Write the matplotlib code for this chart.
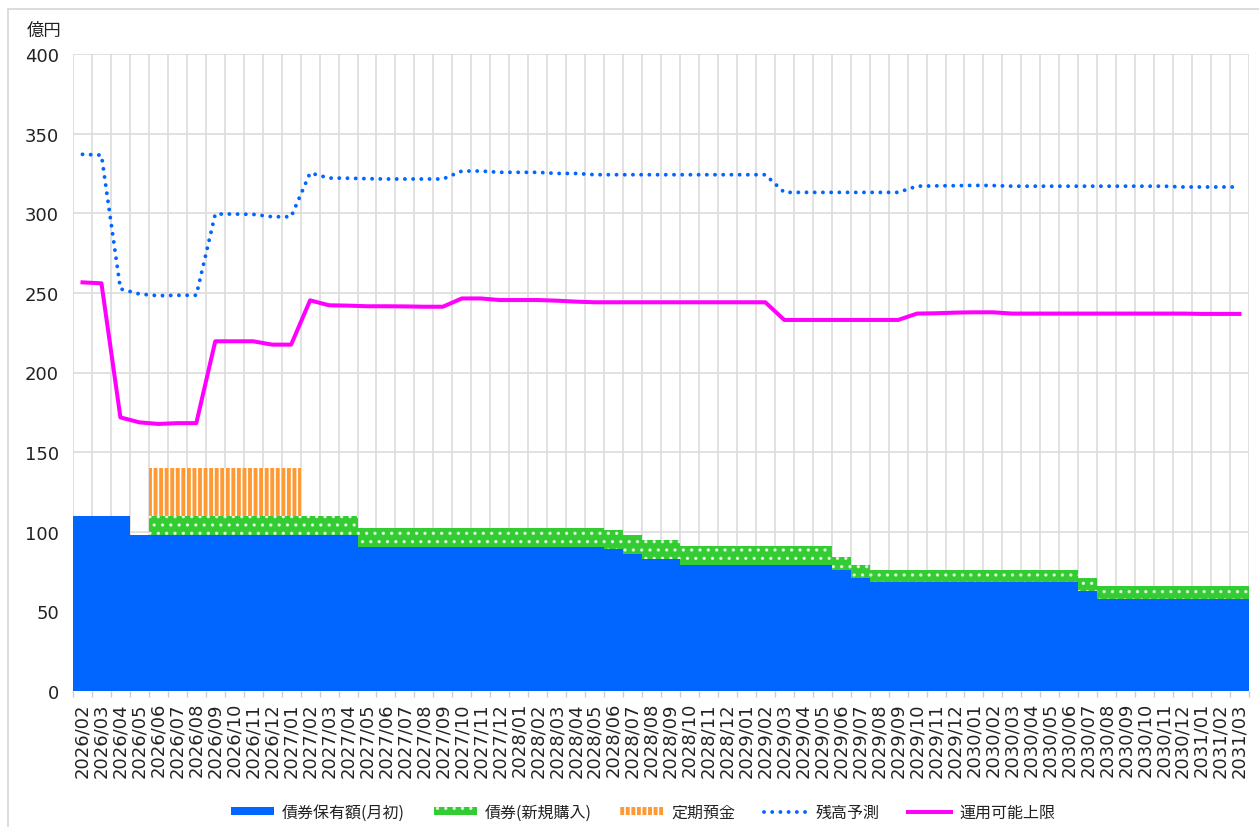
import matplotlib
matplotlib.use('Agg')
import matplotlib.pyplot as plt
import numpy as np
from matplotlib.patches import Patch, Rectangle
from matplotlib.lines import Line2D
from matplotlib.font_manager import FontProperties

plt.rcParams['font.family'] = ['DejaVu Sans', 'Noto Sans CJK JP']
plt.rcParams['hatch.linewidth'] = 1.2

months = [
    "2026/02", "2026/03", "2026/04", "2026/05", "2026/06", "2026/07", "2026/08", "2026/09",
    "2026/10", "2026/11", "2026/12", "2027/01", "2027/02", "2027/03", "2027/04", "2027/05",
    "2027/06", "2027/07", "2027/08", "2027/09", "2027/10", "2027/11", "2027/12", "2028/01",
    "2028/02", "2028/03", "2028/04", "2028/05", "2028/06", "2028/07", "2028/08", "2028/09",
    "2028/10", "2028/11", "2028/12", "2029/01", "2029/02", "2029/03", "2029/04", "2029/05",
    "2029/06", "2029/07", "2029/08", "2029/09", "2029/10", "2029/11", "2029/12", "2030/01",
    "2030/02", "2030/03", "2030/04", "2030/05", "2030/06", "2030/07", "2030/08", "2030/09",
    "2030/10", "2030/11", "2030/12", "2031/01", "2031/02", "2031/03",
]

# 債券保有額(月初)
bond_held = [
    110, 110, 110, 98, 98, 98, 98, 98, 98, 98, 98, 98, 98, 98, 98,
    90.3, 90.3, 90.3, 90.3, 90.3, 90.3, 90.3, 90.3, 90.3, 90.3, 90.3, 90.3, 90.3,
    89.3, 86, 83, 83,
    79.3, 79.3, 79.3, 79.3, 79.3, 79.3, 79.3, 79.3,
    76.2, 71,
    68.2, 68.2, 68.2, 68.2, 68.2, 68.2, 68.2, 68.2, 68.2, 68.2, 68.2,
    63,
    58, 58, 58, 58, 58, 58, 58, 58,
]

# 債券(新規購入)
bond_new = [
    0, 0, 0, 0, 12, 12, 12, 12, 12, 12, 12, 12, 12, 12, 12,
    12, 12, 12, 12, 12, 12, 12, 12, 12, 12, 12, 12, 12,
    11.7, 12, 11.7, 11.7,
    11.7, 11.7, 11.7, 11.7, 11.7, 11.7, 11.7, 11.7,
    7.9, 8,
    7.8, 7.8, 7.8, 7.8, 7.8, 7.8, 7.8, 7.8, 7.8, 7.8, 7.8,
    7.8,
    8, 8, 8, 8, 8, 8, 8, 8,
]

# 定期預金
deposit = [
    0, 0, 0, 0, 30, 30, 30, 30, 30, 30, 30, 30, 0, 0, 0,
    0, 0, 0, 0, 0, 0, 0, 0, 0, 0, 0, 0, 0,
    0, 0, 0, 0,
    0, 0, 0, 0, 0, 0, 0, 0,
    0, 0,
    0, 0, 0, 0, 0, 0, 0, 0, 0, 0, 0,
    0,
    0, 0, 0, 0, 0, 0, 0, 0,
]

# 残高予測
balance_forecast = [
    337, 336.5, 252.5, 249.3, 248.2, 248.5, 248.5, 299.5, 299.5, 299.3, 297.8, 297.8,
    325.3, 322.1, 322, 321.7, 321.5, 321.5, 321.5, 321.5, 326.5, 326.5, 325.7, 325.7,
    325.7, 325, 325,
    324.2, 324.2, 324.2, 324.2, 324.2, 324.2, 324.2, 324.2, 324.2, 324.2,
    313.1, 313.1, 313.1, 313.1, 313.1, 313.1, 313.1,
    317, 317.2, 317.3, 317.5, 317.4,
    317, 317, 317, 317, 317, 317, 317, 317, 317,
    316.5, 316.5, 316.5, 316.5,
]

# 運用可能上限
investable_limit = [
    256.6, 256, 171.8, 168.7, 167.7, 168.2, 168.2, 219.6, 219.6, 219.6, 217.5, 217.5,
    245.3, 242.2, 242, 241.6, 241.6, 241.5, 241.3, 241.3, 246.5, 246.5, 245.5, 245.5,
    245.5, 245.1, 244.5,
    244.1, 244.1, 244.1, 244.1, 244.1, 244.1, 244.1, 244.1, 244.1, 244.1,
    233, 233, 233, 233, 233, 233, 233,
    237, 237.2, 237.6, 237.8, 237.8,
    237, 237, 237, 237, 237, 237, 237, 237, 237, 237, 236.8, 236.8, 236.8,
]

labels = ["債券保有額(月初)", "債券(新規購入)", "定期預金", "残高予測", "運用可能上限"]

C_BLUE = '#0066FF'
C_GREEN = '#33CC33'
C_ORANGE = '#FF9933'
C_MAG = '#FF00FF'
C_GRID = '#DCDCDC'
C_DOT = (1, 1, 1, 0.75)

W, H = 1259, 828
fig = plt.figure(figsize=(W / 100, H / 100), dpi=100)
fig.patch.set_facecolor('white')
ax = fig.add_axes([73 / W, 1 - 692 / H, (1249 - 73) / W, (692 - 55) / H])

x = np.arange(len(months))
held = np.array(bond_held, dtype=float)
new = np.array(bond_new, dtype=float)
dep = np.array(deposit, dtype=float)

ax.bar(x, held, width=1.0, color=C_BLUE, linewidth=0, antialiased=False, zorder=2)
ax.bar(x, new, bottom=held, width=1.0, facecolor=C_GREEN, edgecolor=C_DOT,
       linewidth=0, hatch='..', antialiased=False, zorder=2)
ax.bar(x, dep, bottom=held + new, width=1.0, facecolor=C_ORANGE, edgecolor='white',
       linewidth=0, hatch='|||', antialiased=False, zorder=2)

dot_style = (0, (0.01, 2.1))
ax.plot(x, balance_forecast, color=C_BLUE, lw=2.8, linestyle=dot_style,
        dash_capstyle='round', zorder=4)
ax.plot(x, investable_limit, color=C_MAG, lw=2.9, zorder=4)

ax.set_xlim(-0.5, len(months) - 0.5)
ax.set_ylim(0, 400)
ax.set_yticks(np.arange(0, 401, 50))
ax.set_xticks(x)
ax.set_xticklabels(months, rotation=90, fontsize=13.0, color='#222222')
ax.set_xticks(np.arange(-0.5, len(months), 1.0), minor=True)
ax.tick_params(axis='x', which='major', length=0, pad=8)
ax.tick_params(axis='x', which='minor', length=4, width=1, color='#CCCCCC')
ax.tick_params(axis='y', length=0, pad=10, labelsize=13, labelcolor='#222222')

ax.set_axisbelow(True)
ax.grid(axis='y', which='major', color=C_GRID, lw=1.2)
ax.grid(axis='x', which='minor', color=C_GRID, lw=1.2)
ax.grid(axis='x', which='major', visible=False)
for s in ax.spines.values():
    s.set_visible(False)

fig.text(27 / W, 1 - 31 / H, '億円', fontsize=12.5, family=['Noto Sans CJK JP'],
         ha='left', va='center', color='#222222')

handles = [
    Patch(facecolor=C_BLUE, edgecolor=C_BLUE, linewidth=0),
    Patch(facecolor=C_GREEN, edgecolor=C_DOT, linewidth=0, hatch='..'),
    Patch(facecolor=C_ORANGE, edgecolor='white', linewidth=0, hatch='|||'),
    Line2D([], [], color=C_BLUE, lw=2.8, linestyle=dot_style, dash_capstyle='round'),
    Line2D([], [], color=C_MAG, lw=2.9),
]
leg = fig.legend(handles, labels, loc='center', bbox_to_anchor=(643 / W, 1 - 813 / H),
                 ncol=5, frameon=False,
                 prop=FontProperties(family=['Noto Sans CJK JP'], size=11.5),
                 handlelength=2.7, handleheight=0.45, handletextpad=0.5,
                 columnspacing=1.8)
for t in leg.get_texts():
    t.set_color('#222222')

fig.add_artist(Rectangle((8 / W, -0.05), 1.2, 1.05 - 10 / H, transform=fig.transFigure,
                         fill=False, edgecolor='#D9D9D9', linewidth=1.3))

fig.savefig('out.png', dpi=100)
